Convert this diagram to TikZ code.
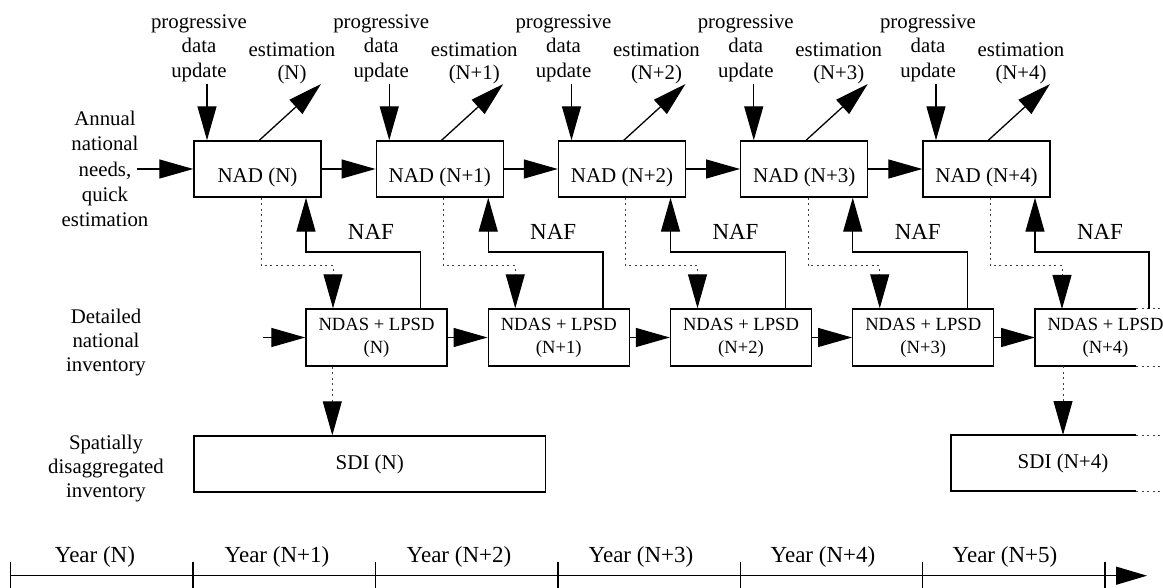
\documentclass[tikz,border=0pt]{standalone}
\usepackage{fontspec}
\setmainfont{Liberation Serif}
\usetikzlibrary{arrows.meta,calc}

\tikzset{
  boxline/.style={line width=1.4pt},
  nadbox/.style={boxline, draw, minimum width=127pt, minimum height=56pt,
    inner sep=0pt, text height=28pt, text depth=0pt,
    font=\fontsize{21}{25}\selectfont},
  ndasbox/.style={boxline, draw, minimum width=141pt, minimum height=57pt,
    inner sep=0pt, align=center, font=\fontsize{18.6}{23}\selectfont},
  sdibox/.style={boxline, draw, minimum height=56pt, inner sep=0pt,
    font=\fontsize{21}{25}\selectfont},
  openbox/.style={draw=none, outer sep=0pt},
  lbl/.style={align=center, inner sep=0pt, font=\fontsize{20.8}{24.4}\selectfont},
  naflbl/.style={inner sep=0pt, font=\fontsize{23}{27}\selectfont},
  yearlbl/.style={inner sep=0pt, font=\fontsize{23}{27}\selectfont},
  flow/.style={line width=1.3pt, -{Triangle[length=34pt,width=19pt]}},
  dots/.style={line width=1pt, black!75, dash pattern=on 2pt off 3.5pt},
  dotflow/.style={dots, -{Triangle[length=34pt,width=19pt,color=black]}},
}

\begin{document}
\begin{tikzpicture}[x=1pt,y=-1pt]
\useasboundingbox (0,0) rectangle (1163,588);

% row labels
\node[lbl, font=\fontsize{20.8}{25.2}\selectfont] (annual) at (105,169)
  {Annual\\national\\needs,\\quick\\estimation};
\node[lbl, font=\fontsize{20.8}{24.2}\selectfont] (detailed) at (106,342.5)
  {Detailed\\national\\inventory};
\node[lbl, font=\fontsize{20.8}{24}\selectfont] (spatial) at (106,468.5)
  {Spatially\\disaggregated\\inventory};

% yearly columns: NAD on top, NDAS + LPSD below
\foreach \i/\t in {0/N,1/N+1,2/N+2,3/N+3,4/N+4}{
  \pgfmathsetmacro{\xa}{257.5+182.25*\i}
  \pgfmathsetmacro{\xb}{376.5+182.25*\i}
  \node[nadbox] (nad\i) at (\xa,169) {NAD (\t)};
  \node[lbl] (upd\i) at (\xa-58.5,48) {progressive\\data\\update};
  \node[lbl, font=\fontsize{20.8}{23.5}\selectfont] (est\i) at (\xa+34.5,63.5) {estimation\\(\t)};
  \coordinate (updtip\i) at (\xa-50.5,84);
  \coordinate (estend\i) at (\xa+63.5,84);
  \draw[flow] (updtip\i) -- (updtip\i |- nad\i.north);
  \draw[flow] ($(nad\i.north west)+(66,0)$) -- (estend\i);
  \node[naflbl] (naf\i) at (\xa+113.5,231.7) {NAF};
  \coordinate (nafc\i) at (\xa+48.5,252);
  \coordinate (dotc\i) at (\xb-43.5,266);
}
\foreach \i/\t in {0/N,1/N+1,2/N+2,3/N+3}{
  \pgfmathsetmacro{\xb}{376.5+182.25*\i}
  \node[ndasbox] (ndas\i) at (\xb,337.5) {NDAS + LPSD\\(\t)};
}
\node[ndasbox, openbox] (ndas4) at (1105.5,337.5) {NDAS + LPSD\\(N+4)};
\draw[boxline] ($(ndas4.north west)+(101,0)$) -- (ndas4.north west)
  -- (ndas4.south west) -- ($(ndas4.south west)+(101,0)$);
\draw[dots] ($(ndas4.north west)+(101,0)$) -- (ndas4.north -| 1163,0);
\draw[dots] ($(ndas4.south west)+(101,0)$) -- (ndas4.south -| 1163,0);

% flow between years
\coordinate (inA) at (137,169);
\coordinate (inB) at (263,337.5);
\draw[flow] (inA) -- (nad0.west);
\draw[flow] (inB) -- (ndas0.west);
\foreach \i [evaluate=\i as \j using int(\i-1)] in {1,...,4}{
  \draw[flow] (nad\j.east) -- (nad\i.west);
  \draw[flow] (ndas\j.east) -- (ndas\i.west);
}

% NAF feedback and dotted hand-over
\foreach \i in {0,...,4}{
  \draw[flow] ($(ndas\i.north east)+(-27,0)$) |- (nafc\i) -- (nafc\i |- nad\i.south);
  \draw[dotflow] ($(nad\i.south west)+(68,0)$) |- (dotc\i) -- (dotc\i |- ndas\i.north);
}

% spatially disaggregated inventories
\node[sdibox, minimum width=351.5pt] (sdi0) at (369.75,464) {SDI (N)};
\node[sdibox, openbox, minimum width=224pt] (sdi4) at (1063,463) {SDI (N+4)};
\draw[boxline] ($(sdi4.north west)+(185,0)$) -- (sdi4.north west)
  -- (sdi4.south west) -- ($(sdi4.south west)+(185,0)$);
\draw[dots] ($(sdi4.north west)+(185,0)$) -- (sdi4.north -| 1163,0);
\draw[dots] ($(sdi4.south west)+(185,0)$) -- (sdi4.south -| 1163,0);
\coordinate (d0) at ($(ndas0.south west)+(27,0)$);
\coordinate (d4) at ($(ndas4.south west)+(28,0)$);
\draw[dotflow] (d0) -- (d0 |- sdi0.north);
\draw[dotflow] (d4) -- (d4 |- sdi4.north);

% time axis
\foreach \k in {0,...,6}{
  \coordinate (t\k) at (10.7+182.4*\k,575.7);
}
\coordinate (axend) at (1147,575.7);
\draw[line width=1.3pt, -{Triangle[length=31pt,width=18pt]}] (t0) -- (axend);
\foreach \k in {0,...,6}{
  \draw[line width=1.3pt] ($(t\k)+(0,-14)$) -- ($(t\k)+(0,14)$);
}
\foreach \k/\t in {0/N,1/N+1,2/N+2,3/N+3,4/N+4,5/N+5}{
  \node[yearlbl, anchor=base] (yr\k) at (95+182*\k,562) {Year (\t)};
}
\end{tikzpicture}
\end{document}
